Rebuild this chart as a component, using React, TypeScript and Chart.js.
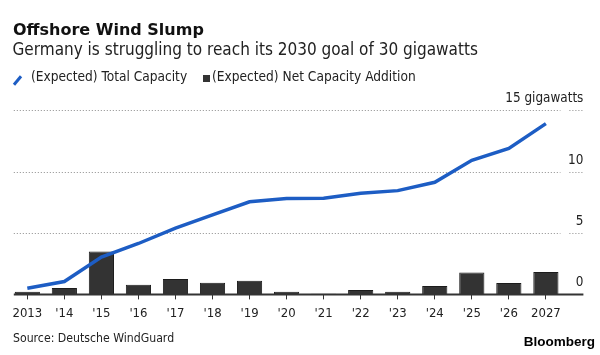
import React, { useEffect, useRef } from "react";
import { Chart, registerables } from "chart.js";

Chart.register(...registerables);

const categories = ["2013", "'14", "'15", "'16", "'17", "'18", "'19", "'20", "'21", "'22", "'23", "'24", "'25", "'26", "2027"];
const totalCapacity = [0.5, 1.05, 3.04, 4.15, 5.4, 6.48, 7.55, 7.82, 7.84, 8.25, 8.46, 9.14, 10.93, 11.9, 13.92];
const netAddition = [0.22, 0.52, 3.5, 0.79, 1.25, 0.95, 1.12, 0.22, 0.05, 0.35, 0.22, 0.68, 1.79, 0.92, 1.82];
const yTickValues = [0, 5, 10, 15];
const yTickLabels = ["0", "5", "10", "15 gigawatts"];

const FONT = "'DejaVu Sans Condensed', 'DejaVu Sans', sans-serif";
const TEXT = "#222222";
const BLUE = "#1d5dc4";
const BAR = "#333333";

const gridPlugin = {
  id: "bbgGrid",
  beforeDatasetsDraw(chart: any) {
    const { ctx, chartArea } = chart;
    const y = chart.scales.y;
    ctx.save();
    yTickValues.forEach((v, i) => {
      const py = Math.round(y.getPixelForValue(v));
      if (v !== 0) {
        ctx.strokeStyle = "#8c8c8c";
        ctx.lineWidth = 1;
        ctx.setLineDash([1, 2]);
        ctx.beginPath();
        ctx.moveTo(chartArea.left + 5, py + 0.5);
        ctx.lineTo(chartArea.right - 4, py + 0.5);
        ctx.moveTo(chartArea.right + 5, py + 0.5);
        ctx.lineTo(chartArea.right + 19, py + 0.5);
        ctx.stroke();
      }
      ctx.setLineDash([]);
      ctx.fillStyle = TEXT;
      ctx.font = `13.4px ${FONT}`;
      ctx.textAlign = "right";
      ctx.textBaseline = "alphabetic";
      ctx.fillText(yTickLabels[i], chartArea.right + 19, py - 8);
    });
    ctx.restore();
  },
  afterDatasetsDraw(chart: any) {
    const { ctx, chartArea } = chart;
    const y = chart.scales.y;
    const py = y.getPixelForValue(0);
    ctx.save();
    ctx.strokeStyle = "#333333";
    ctx.lineWidth = 2;
    ctx.beginPath();
    ctx.moveTo(chartArea.left + 5, py);
    ctx.lineTo(chartArea.right + 19, py);
    ctx.stroke();
    ctx.restore();
  },
};

function BloombergChart() {
  const ref = useRef<HTMLCanvasElement | null>(null);
  useEffect(() => {
    if (!ref.current) return;
    const chart = new Chart(ref.current, {
      type: "bar",
      data: {
        labels: categories,
        datasets: [
          {
            type: "line",
            label: "(Expected) Total Capacity",
            data: totalCapacity,
            borderColor: BLUE,
            backgroundColor: BLUE,
            borderWidth: 3.5,
            pointRadius: 0,
            tension: 0,
            order: 0,
          } as any,
          {
            type: "bar",
            label: "(Expected) Net Capacity Addition",
            data: netAddition,
            backgroundColor: BAR,
            borderColor: "#1c1c1c",
            borderWidth: 1,
            categoryPercentage: 1,
            barPercentage: 0.68,
            order: 1,
          },
        ],
      },
      options: {
        animation: false,
        responsive: false,
        devicePixelRatio: 1,
        layout: { padding: { left: 8.8, right: 35.6, top: 110.4, bottom: 20.6 } },
        plugins: { legend: { display: false }, tooltip: { enabled: false }, title: { display: false } },
        scales: {
          x: {
            offset: true,
            grid: {
              display: true,
              drawOnChartArea: false,
              drawTicks: true,
              tickLength: 5,
              tickColor: "#333333",
              tickWidth: 1,
              offset: false,
            },
            border: { display: false },
            ticks: { color: TEXT, font: { family: FONT, size: 13 }, padding: 6, maxRotation: 0, autoSkip: false },
            afterFit: (s: any) => {
              s.height = 40;
            },
          },
          y: {
            display: false,
            min: 0,
            max: 15,
          },
        },
      },
      plugins: [gridPlugin],
    });
    return () => chart.destroy();
  }, []);
  return <canvas ref={ref} width={600} height={355} style={{ position: "absolute", left: 0, top: 0, width: 600, height: 355 }} />;
}

export default function App() {
  const base: React.CSSProperties = { position: "absolute", whiteSpace: "nowrap", color: TEXT, fontFamily: FONT };
  return (
    <div style={{ position: "absolute", left: 0, top: 0, width: 600, height: 355, background: "#ffffff", overflow: "hidden" }}>
      <BloombergChart />
      <div style={{ ...base, left: 13, top: 21.5, fontSize: 16, lineHeight: "16px", fontWeight: 700, fontFamily: "'DejaVu Sans', sans-serif", color: "#111" }}>
        Offshore Wind Slump
      </div>
      <div style={{ ...base, left: 12.5, top: 40.6, fontSize: 17, lineHeight: "17px" }}>
        Germany is struggling to reach its 2030 goal of 30 gigawatts
      </div>
      <div style={{ position: "absolute", left: 12, top: 79, width: 11, height: 3, background: BLUE, transform: "rotate(-50deg)" }} />
      <div style={{ ...base, left: 31, top: 70.2, fontSize: 13.6, lineHeight: "13.6px" }}>(Expected) Total Capacity</div>
      <div style={{ position: "absolute", left: 202.5, top: 74.5, width: 7.5, height: 7.5, background: BAR }} />
      <div style={{ ...base, left: 212, top: 70.2, fontSize: 13.6, lineHeight: "13.6px" }}>(Expected) Net Capacity Addition</div>
      <div style={{ ...base, left: 13, top: 331.5, fontSize: 12.2, lineHeight: "12.2px" }}>Source: Deutsche WindGuard</div>
      <div style={{ ...base, right: 5, top: 334.6, fontSize: 13.5, lineHeight: "13.5px", fontWeight: 700, fontFamily: "'Liberation Sans', Arial, sans-serif", color: "#000" }}>
        Bloomberg
      </div>
    </div>
  );
}
